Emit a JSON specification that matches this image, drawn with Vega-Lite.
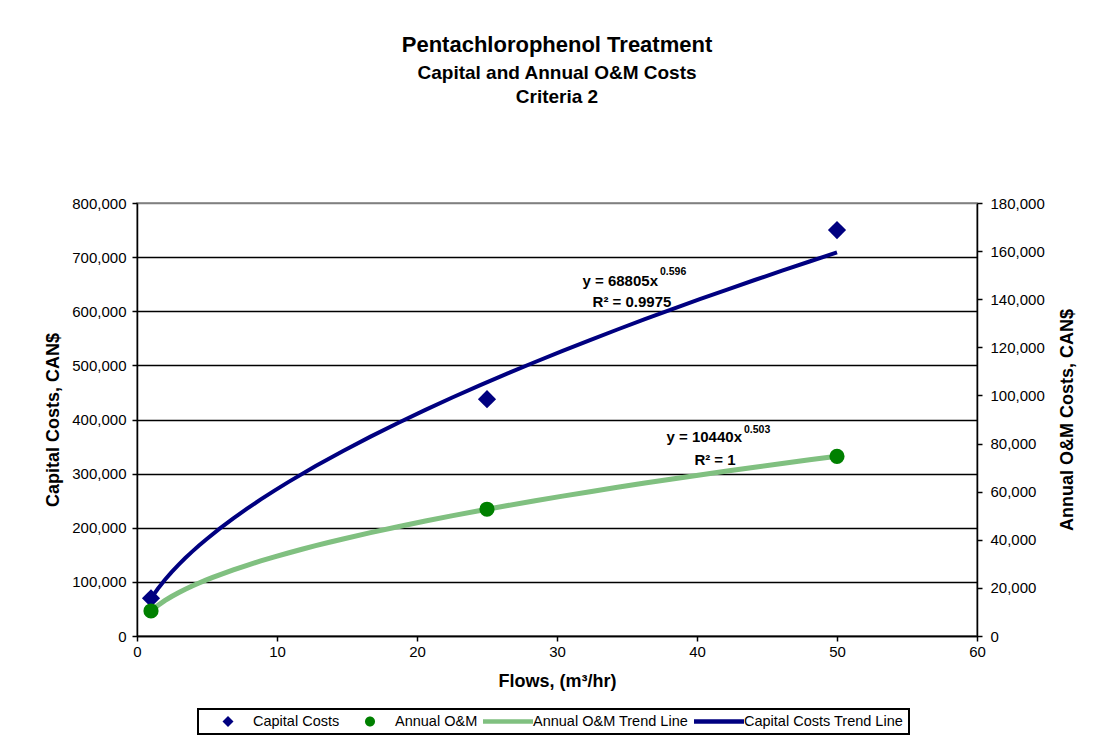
{
  "$schema": "https://vega.github.io/schema/vega-lite/v6.json",
  "width": 840,
  "height": 433,
  "autosize": {"type": "none"},
  "padding": {"left": 137, "top": 203, "right": 120, "bottom": 113},
  "background": "white",
  "config": {
    "font": "Liberation Sans",
    "view": {"stroke": "#808080", "strokeWidth": 1.5},
    "axis": {
      "labelFont": "Liberation Sans",
      "labelFontSize": 15,
      "labelColor": "black",
      "titleFont": "Liberation Sans",
      "titleFontSize": 18,
      "titleFontWeight": "bold",
      "titleColor": "black",
      "domainColor": "black",
      "domainWidth": 1.5,
      "tickColor": "black",
      "tickWidth": 1.5,
      "tickSize": 5,
      "labelFlush": false
    }
  },
  "title": {
    "text": "Pentachlorophenol Treatment",
    "subtitle": ["Capital and Annual O&M Costs", "Criteria 2"],
    "font": "Liberation Sans",
    "fontSize": 22,
    "fontWeight": "bold",
    "color": "black",
    "subtitleFont": "Liberation Sans",
    "subtitleFontSize": 19,
    "subtitleFontWeight": "bold",
    "subtitleColor": "black",
    "subtitleLineHeight": 24,
    "subtitlePadding": 7,
    "anchor": "middle",
    "offset": 88
  },
  "data": {
    "values": [
      {"flow": 1, "capital": 69700, "om": 10400},
      {"flow": 25, "capital": 437600, "om": 52700},
      {"flow": 50, "capital": 750000, "om": 74700}
    ]
  },
  "encoding": {
    "x": {
      "field": "flow",
      "type": "quantitative",
      "scale": {"domain": [0, 60]},
      "axis": {
        "values": [0, 10, 20, 30, 40, 50, 60],
        "title": "Flows, (m³/hr)",
        "grid": false,
        "labelPadding": 3,
        "titlePadding": 13
      }
    }
  },
  "layer": [
    {
      "encoding": {
        "y": {
          "field": "capital",
          "type": "quantitative",
          "scale": {"domain": [0, 800000]},
          "axis": {
            "values": [0, 100000, 200000, 300000, 400000, 500000, 600000, 700000, 800000],
            "format": ",d",
            "title": "Capital Costs, CAN$",
            "grid": true,
            "gridColor": {"condition": {"test": "datum.value >= 800000", "value": "#808080"}, "value": "black"},
            "gridWidth": 1.5,
            "labelPadding": 6,
            "titlePadding": 9
          }
        }
      },
      "layer": [
        {
          "transform": [{"regression": "capital", "on": "flow", "method": "pow"}],
          "mark": {"type": "line", "strokeWidth": 4},
          "encoding": {
            "color": {
              "datum": "Capital Costs Trend Line",
              "type": "nominal",
              "scale": {
                "domain": ["Capital Costs", "Annual O&M", "Annual O&M Trend Line", "Capital Costs Trend Line"],
                "range": ["#000080", "#008000", "#80c080", "#000080"]
              },
              "legend": {
                "title": null,
                "orient": "none",
                "legendX": 61,
                "legendY": 506,
                "direction": "horizontal",
                "columns": 4,
                "symbolSize": 2500,
                "symbolStrokeWidth": 0,
                "clipHeight": 15,
                "labelFont": "Liberation Sans",
                "labelFontSize": 14.5,
                "labelColor": "black",
                "labelLimit": 400,
                "labelOffset": 0,
                "columnPadding": 5,
                "padding": 5,
                "strokeColor": "black",
                "encode": {
                  "legend": {"update": {"strokeWidth": {"value": 2}}},
                  "symbols": {
                    "update": {
                      "shape": {"signal": "datum.value === 'Capital Costs' ? 'M0,-0.22L0.22,0L0,0.22L-0.22,0Z' : datum.value === 'Annual O&M' ? 'M0.2,0A0.2,0.2 0 1,1 -0.2,0A0.2,0.2 0 1,1 0.2,0Z' : 'M-1,-0.09H1V0.09H-1Z'"},
                      "fill": {"scale": "color", "field": "value"},
                      "strokeWidth": {"value": 0},
                      "opacity": {"value": 1}
                    }
                  }
                }
              }
            }
          }
        },
        {
          "mark": {"type": "point", "shape": "diamond", "filled": true, "size": 330, "opacity": 1},
          "encoding": {"color": {"datum": "Capital Costs", "type": "nominal"}}
        },
        {
          "transform": [{"filter": "datum.flow === 50"}],
          "layer": [
            {
              "mark": {"type": "text", "text": "y = 68805x", "align": "right", "baseline": "middle", "dx": -179, "dy": 51, "font": "Liberation Sans", "fontSize": 15, "fontWeight": "bold", "color": "black"}
            },
            {
              "mark": {"type": "text", "text": "0.596", "align": "left", "baseline": "middle", "dx": -177, "dy": 42, "font": "Liberation Sans", "fontSize": 10.5, "fontWeight": "bold", "color": "black"}
            },
            {
              "mark": {"type": "text", "text": "R² = 0.9975", "align": "center", "baseline": "middle", "dx": -205, "dy": 72, "font": "Liberation Sans", "fontSize": 15, "fontWeight": "bold", "color": "black"}
            }
          ]
        }
      ]
    },
    {
      "encoding": {
        "y": {
          "field": "om",
          "type": "quantitative",
          "scale": {"domain": [0, 180000]},
          "axis": {
            "orient": "right",
            "values": [0, 20000, 40000, 60000, 80000, 100000, 120000, 140000, 160000, 180000],
            "format": ",d",
            "title": "Annual O&M Costs, CAN$",
            "titleAngle": 270,
            "titleBaseline": "top",
            "grid": false,
            "labelPadding": 8,
            "titlePadding": 14
          }
        }
      },
      "layer": [
        {
          "transform": [{"regression": "om", "on": "flow", "method": "pow"}],
          "mark": {"type": "line", "strokeWidth": 5},
          "encoding": {"color": {"datum": "Annual O&M Trend Line", "type": "nominal"}}
        },
        {
          "mark": {"type": "point", "shape": "circle", "filled": true, "size": 230, "opacity": 1},
          "encoding": {"color": {"datum": "Annual O&M", "type": "nominal"}}
        },
        {
          "transform": [{"filter": "datum.flow === 50"}],
          "layer": [
            {
              "mark": {"type": "text", "text": "y = 10440x", "align": "right", "baseline": "middle", "dx": -95, "dy": -19, "font": "Liberation Sans", "fontSize": 15, "fontWeight": "bold", "color": "black"}
            },
            {
              "mark": {"type": "text", "text": "0.503", "align": "left", "baseline": "middle", "dx": -93, "dy": -26, "font": "Liberation Sans", "fontSize": 10.5, "fontWeight": "bold", "color": "black"}
            },
            {
              "mark": {"type": "text", "text": "R² = 1", "align": "center", "baseline": "middle", "dx": -122, "dy": 4, "font": "Liberation Sans", "fontSize": 15, "fontWeight": "bold", "color": "black"}
            }
          ]
        }
      ]
    }
  ],
  "resolve": {"scale": {"y": "independent"}}
}
